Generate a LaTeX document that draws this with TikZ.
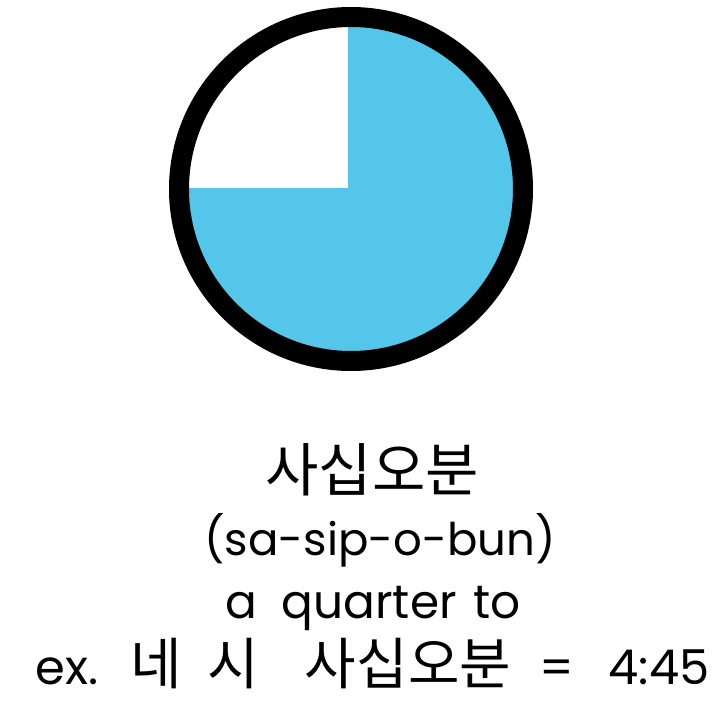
\documentclass[tikz,border=0pt]{standalone}
\usepackage{fontspec}
\setmainfont{Poppins}
\newfontfamily\krfont{Noto Sans CJK KR}
\usepackage{xcolor}
\definecolor{clockblue}{RGB}{84,198,233}

\begin{document}
\begin{tikzpicture}[x=1pt,y=-1pt,
  every node/.style={font=\fontsize{45}{54}\selectfont,inner sep=0pt,anchor=base},
  kor/.style={font=\krfont\fontsize{58}{66}\selectfont},
  korsmall/.style={font=\krfont\fontsize{56}{64}\selectfont},
  big/.style={font=\fontsize{48}{58}\selectfont},
  rim/.style={draw=black,line width=20pt}]
\useasboundingbox (0,0) rectangle (724,701);
% clock face
\fill[clockblue] (351,189) circle (165pt);
\begin{scope}
  \clip (351,189) circle (165pt);
  \fill[white] (348,188) rectangle (150,0);
\end{scope}
\draw[rim] (351,189) circle (172pt);
% labels
\node[kor] (word) at (372,491) {사십오분};
\node (roman) at (380,555) {(sa-sip-o-bun)};
\node[font=\fontsize{47}{56}\selectfont] (meaning) at (373,618)
  {a\hspace{25pt}quarter\hspace{17pt}to};
% example line
\node[big] (ex) at (67,684) {ex.};
\node[korsmall] (ne) at (156,684) {네};
\node[korsmall] (si) at (233,684) {시};
\node[korsmall] (word2) at (408,684) {사십오분};
\node[big] (eq) at (557,684) {=};
\node[big] (time) at (659,684) {4:45};
\end{tikzpicture}
\end{document}
